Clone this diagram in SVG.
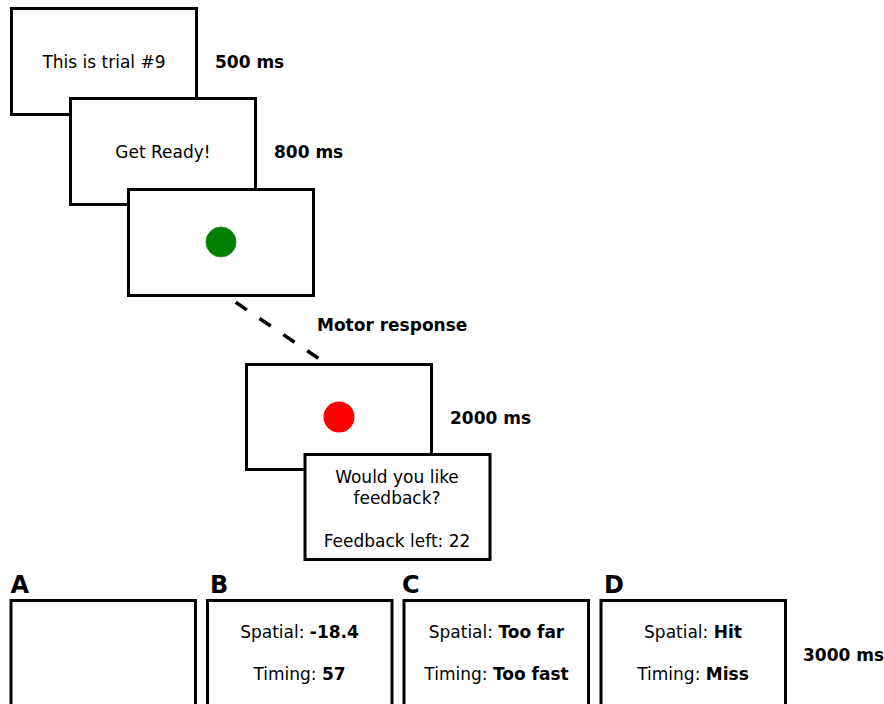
<svg xmlns="http://www.w3.org/2000/svg" width="884" height="704" viewBox="0 0 884 704">
<style>
.box{fill:#fff;stroke:#000;stroke-width:3}
text{font-family:"DejaVu Sans",sans-serif;font-size:17px;fill:#000}
.c{text-anchor:middle}
.b{font-weight:bold}
.lab{font-weight:bold;font-size:24px}
</style>
<rect width="884" height="704" fill="#fff"/>
<g id="n1"><rect class="box" x="11.5" y="8.5" width="185" height="106"/><text class="c" x="104" y="68">This is trial #9</text></g>
<text class="b" x="215" y="68">500 ms</text>
<g id="n2"><rect class="box" x="70.5" y="98.5" width="185" height="106"/><text class="c" x="163" y="158">Get Ready!</text></g>
<text class="b" x="274" y="158">800 ms</text>
<g id="n3"><rect class="box" x="128.5" y="189.5" width="185" height="106"/><circle cx="221" cy="242" r="15" fill="#008000" stroke="#2a8a2a" stroke-width="1"/></g>
<g id="connectors"><line x1="235.7" y1="302.3" x2="318.3" y2="358.3" stroke="#000" stroke-width="3.5" stroke-dasharray="13.5,15.3"/></g>
<text class="b" x="317" y="331">Motor response</text>
<g id="n4"><rect class="box" x="246.5" y="364.5" width="185" height="105"/><circle cx="339" cy="417" r="15.5" fill="#ff0000"/></g>
<text class="b" x="450" y="424">2000 ms</text>
<g id="n5"><rect class="box" x="305" y="454.5" width="185" height="105"/>
<text class="c" x="397" y="483">Would you like</text>
<text class="c" x="397" y="504">feedback?</text>
<text class="c" x="397" y="547">Feedback left: 22</text></g>
<g id="A"><text class="lab" x="10.5" y="593">A</text><rect class="box" x="11" y="600.5" width="184.5" height="120"/></g>
<g id="B"><text class="lab" x="210" y="593">B</text><rect class="box" x="207.5" y="600.5" width="184.5" height="120"/>
<text class="c" x="299.5" y="638">Spatial: <tspan class="b">-18.4</tspan></text>
<text class="c" x="299.5" y="680">Timing: <tspan class="b">57</tspan></text></g>
<g id="C"><text class="lab" x="402" y="593">C</text><rect class="box" x="404" y="600.5" width="184.5" height="120"/>
<text class="c" x="496.5" y="638">Spatial: <tspan class="b">Too far</tspan></text>
<text class="c" x="496.5" y="680">Timing: <tspan class="b">Too fast</tspan></text></g>
<g id="D"><text class="lab" x="604" y="593">D</text><rect class="box" x="601" y="600.5" width="184.5" height="120"/>
<text class="c" x="693" y="638">Spatial: <tspan class="b">Hit</tspan></text>
<text class="c" x="693" y="680">Timing: <tspan class="b">Miss</tspan></text></g>
<text class="b" x="803" y="661">3000 ms</text>
</svg>
